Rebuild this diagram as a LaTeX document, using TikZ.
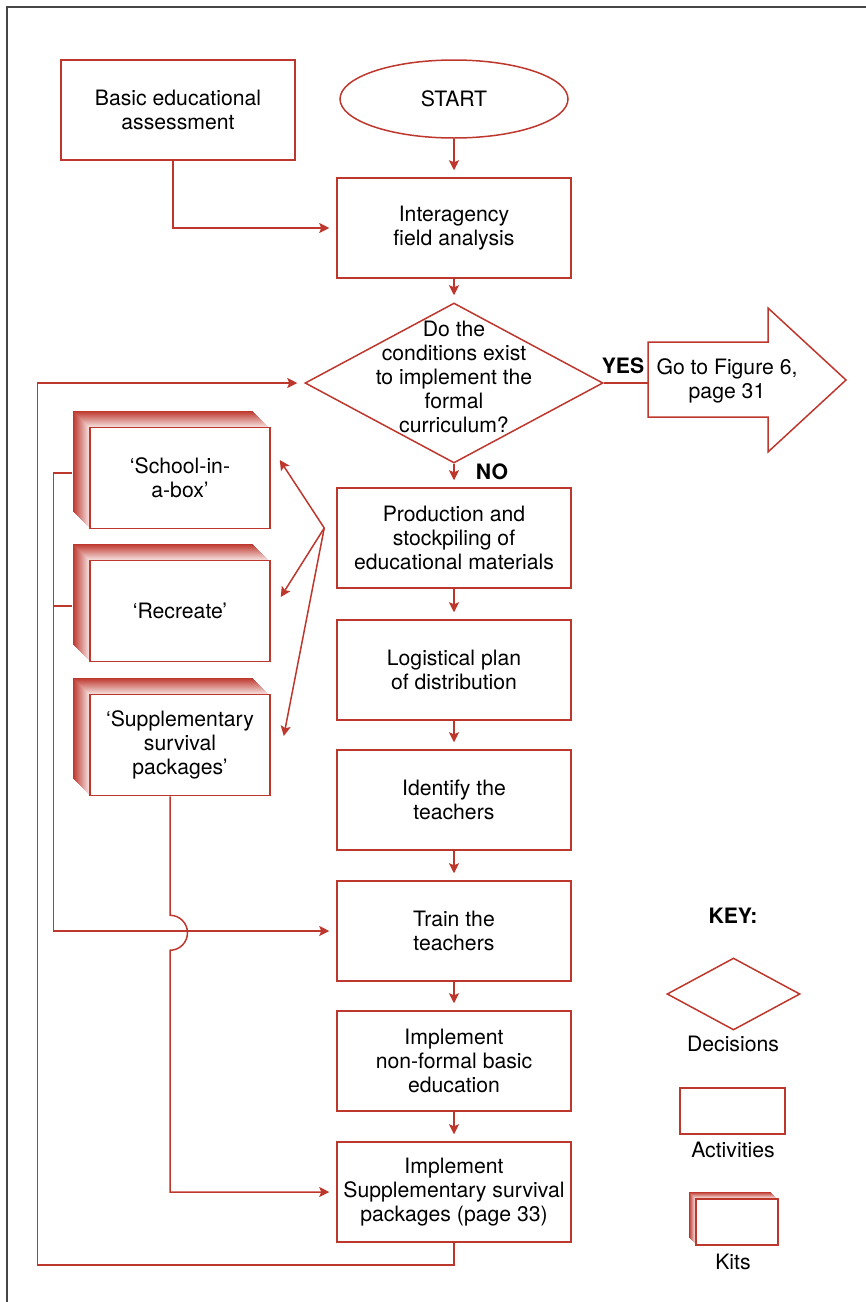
\documentclass[tikz,border=0pt]{standalone}
\usepackage{fontspec}
\setmainfont{TeX Gyre Heros}
\usepackage{tikz}
\usetikzlibrary{arrows.meta,positioning,calc,shapes.geometric}
\definecolor{kitred}{RGB}{190,55,45}
\definecolor{framegray}{RGB}{70,70,70}

\begin{document}
\begin{tikzpicture}[x=0.5pt,y=-0.5pt,
  font=\fontsize{10.6}{12}\selectfont,
  act/.style={draw=kitred,line width=0.75pt,fill=white,align=center,
    minimum width=117pt,minimum height=50pt,inner sep=2pt},
  startnode/.style={draw=kitred,line width=0.75pt,ellipse,
    minimum width=114pt,minimum height=39pt},
  dec/.style={draw=kitred,line width=0.75pt,diamond,
    minimum width=149pt,minimum height=80pt,inner sep=0pt},
  kitfront/.style={draw=kitred,line width=0.75pt,fill=white,align=center,inner sep=0pt},
  ln/.style={draw=kitred,line width=0.75pt},
  ar/.style={ln,-{Stealth[length=5pt,width=5pt,inset=1pt]},shorten >=3.5pt},
  fanar/.style={ln,-{Stealth[length=5pt,width=5pt,inset=1pt]}}]
\useasboundingbox (0,0) rectangle (866,1302);
\draw[framegray,line width=1pt] (7,1302) -- (7,7) -- (866,7);

% main column
\node[act] (bea) at (178,110) {Basic educational\\assessment};
\node[startnode] (start) at (454,99) {START};
\node[act] (inter) at (454,228) {Interagency\\field analysis};
\node[dec] (cond) at (454,383) {};
\node[align=center] (condtext) at (454,377) {Do the\\conditions exist\\to implement the\\formal\\curriculum?};
\node[act] (prod) at (454,538) {Production and\\stockpiling of\\educational materials};
\node[act] (logi) at (454,670) {Logistical plan\\of distribution};
\node[act] (ident) at (454,800) {Identify the\\teachers};
\node[act] (train) at (454,931) {Train the\\teachers};
\node[act] (nonf) at (454,1061) {Implement\\non-formal basic\\education};
\node[act] (isp) at (454,1192) {Implement\\Supplementary survival\\packages (page 33)};

% go to figure 6
\coordinate (gotoin) at (648,383);
\draw[ln] (648,342) -- (768,342) -- (768,308) -- (846,380) -- (768,452)
  -- (768,417) -- (648,417) -- cycle;
\node[align=center] (goto) at (727,381) {Go to Figure 6,\\page 31};
\node[font=\fontsize{10.6}{12}\selectfont\bfseries] (yes) at (623,366) {YES};
\node[font=\fontsize{10.6}{12}\selectfont\bfseries] (no) at (492,472) {NO};

% kits
\foreach \nm/\cx/\cy/\w/\h/\d/\txt in {
  sib/180/478/180/101/17/{`School-in-\\a-box'},
  rec/180/611/180/101/17/{`Recreate'},
  ssp/180/745/180/101/17/{`Supplementary\\survival\\packages'},
  keykit/737/1222/82/46/7/{}}{
  \foreach \i in {\d,...,1}{
    \pgfmathtruncatemacro\p{15+85*(\i-1)/(\d-1)}
    \fill[kitred!\p!white] (\cx-\w/2-\i,\cy-\h/2-\i) rectangle (\cx+\w/2-\i,\cy+\h/2-\i);
  }
  \node[kitfront,minimum width=\w*0.5pt,minimum height=\h*0.5pt] (\nm) at (\cx,\cy) {\txt};
}

% connectors
\foreach \a/\b in {start/inter,inter/cond,cond/prod,prod/logi,logi/ident,
  ident/train,train/nonf,nonf/isp}
  \draw[ar] (\a) -- (\b);
\draw[ar] ($(bea.south)+(-5,0)$) |- (inter.west);
\draw[ln] (cond.east) -- (gotoin);
\coordinate (fan) at ($(prod.west)+(-12,-10)$);
\draw[fanar] (fan) -- ($(sib.east)+(9,-18)$);
\draw[fanar] (fan) -- ($(rec.east)+(10,-14)$);
\draw[fanar] (fan) -- ($(ssp.east)+(13,-9)$);
\draw[ar] ($(sib.west)+(-17,-5)$) -- ++(-19,0) |- (train.west);
\draw[ln] ($(rec.west)+(-17,-5)$) -- ++(-19,0);
\draw[ar] ($(ssp.south)+(-10,0)$) -- ++(0,119)
  arc[start angle=90,end angle=-90,radius=8.75pt] |- (isp.west);
\draw[ar] (isp.south) -- ++(0,22) -| ($(cond.west)+(-267,0)$) -- (cond.west);

% key
\node[font=\fontsize{10.6}{12}\selectfont\bfseries] (key) at (733,916) {KEY:};
\node[dec,minimum width=66.5pt,minimum height=36pt] (keydec) at (733.5,994) {};
\node (decl) at (733,1044) {Decisions};
\node[act,minimum width=52.5pt,minimum height=23pt] (keyact) at (732.5,1111) {};
\node (actl) at (733,1150) {Activities};
\node (kitl) at (733,1262) {Kits};
\end{tikzpicture}
\end{document}
